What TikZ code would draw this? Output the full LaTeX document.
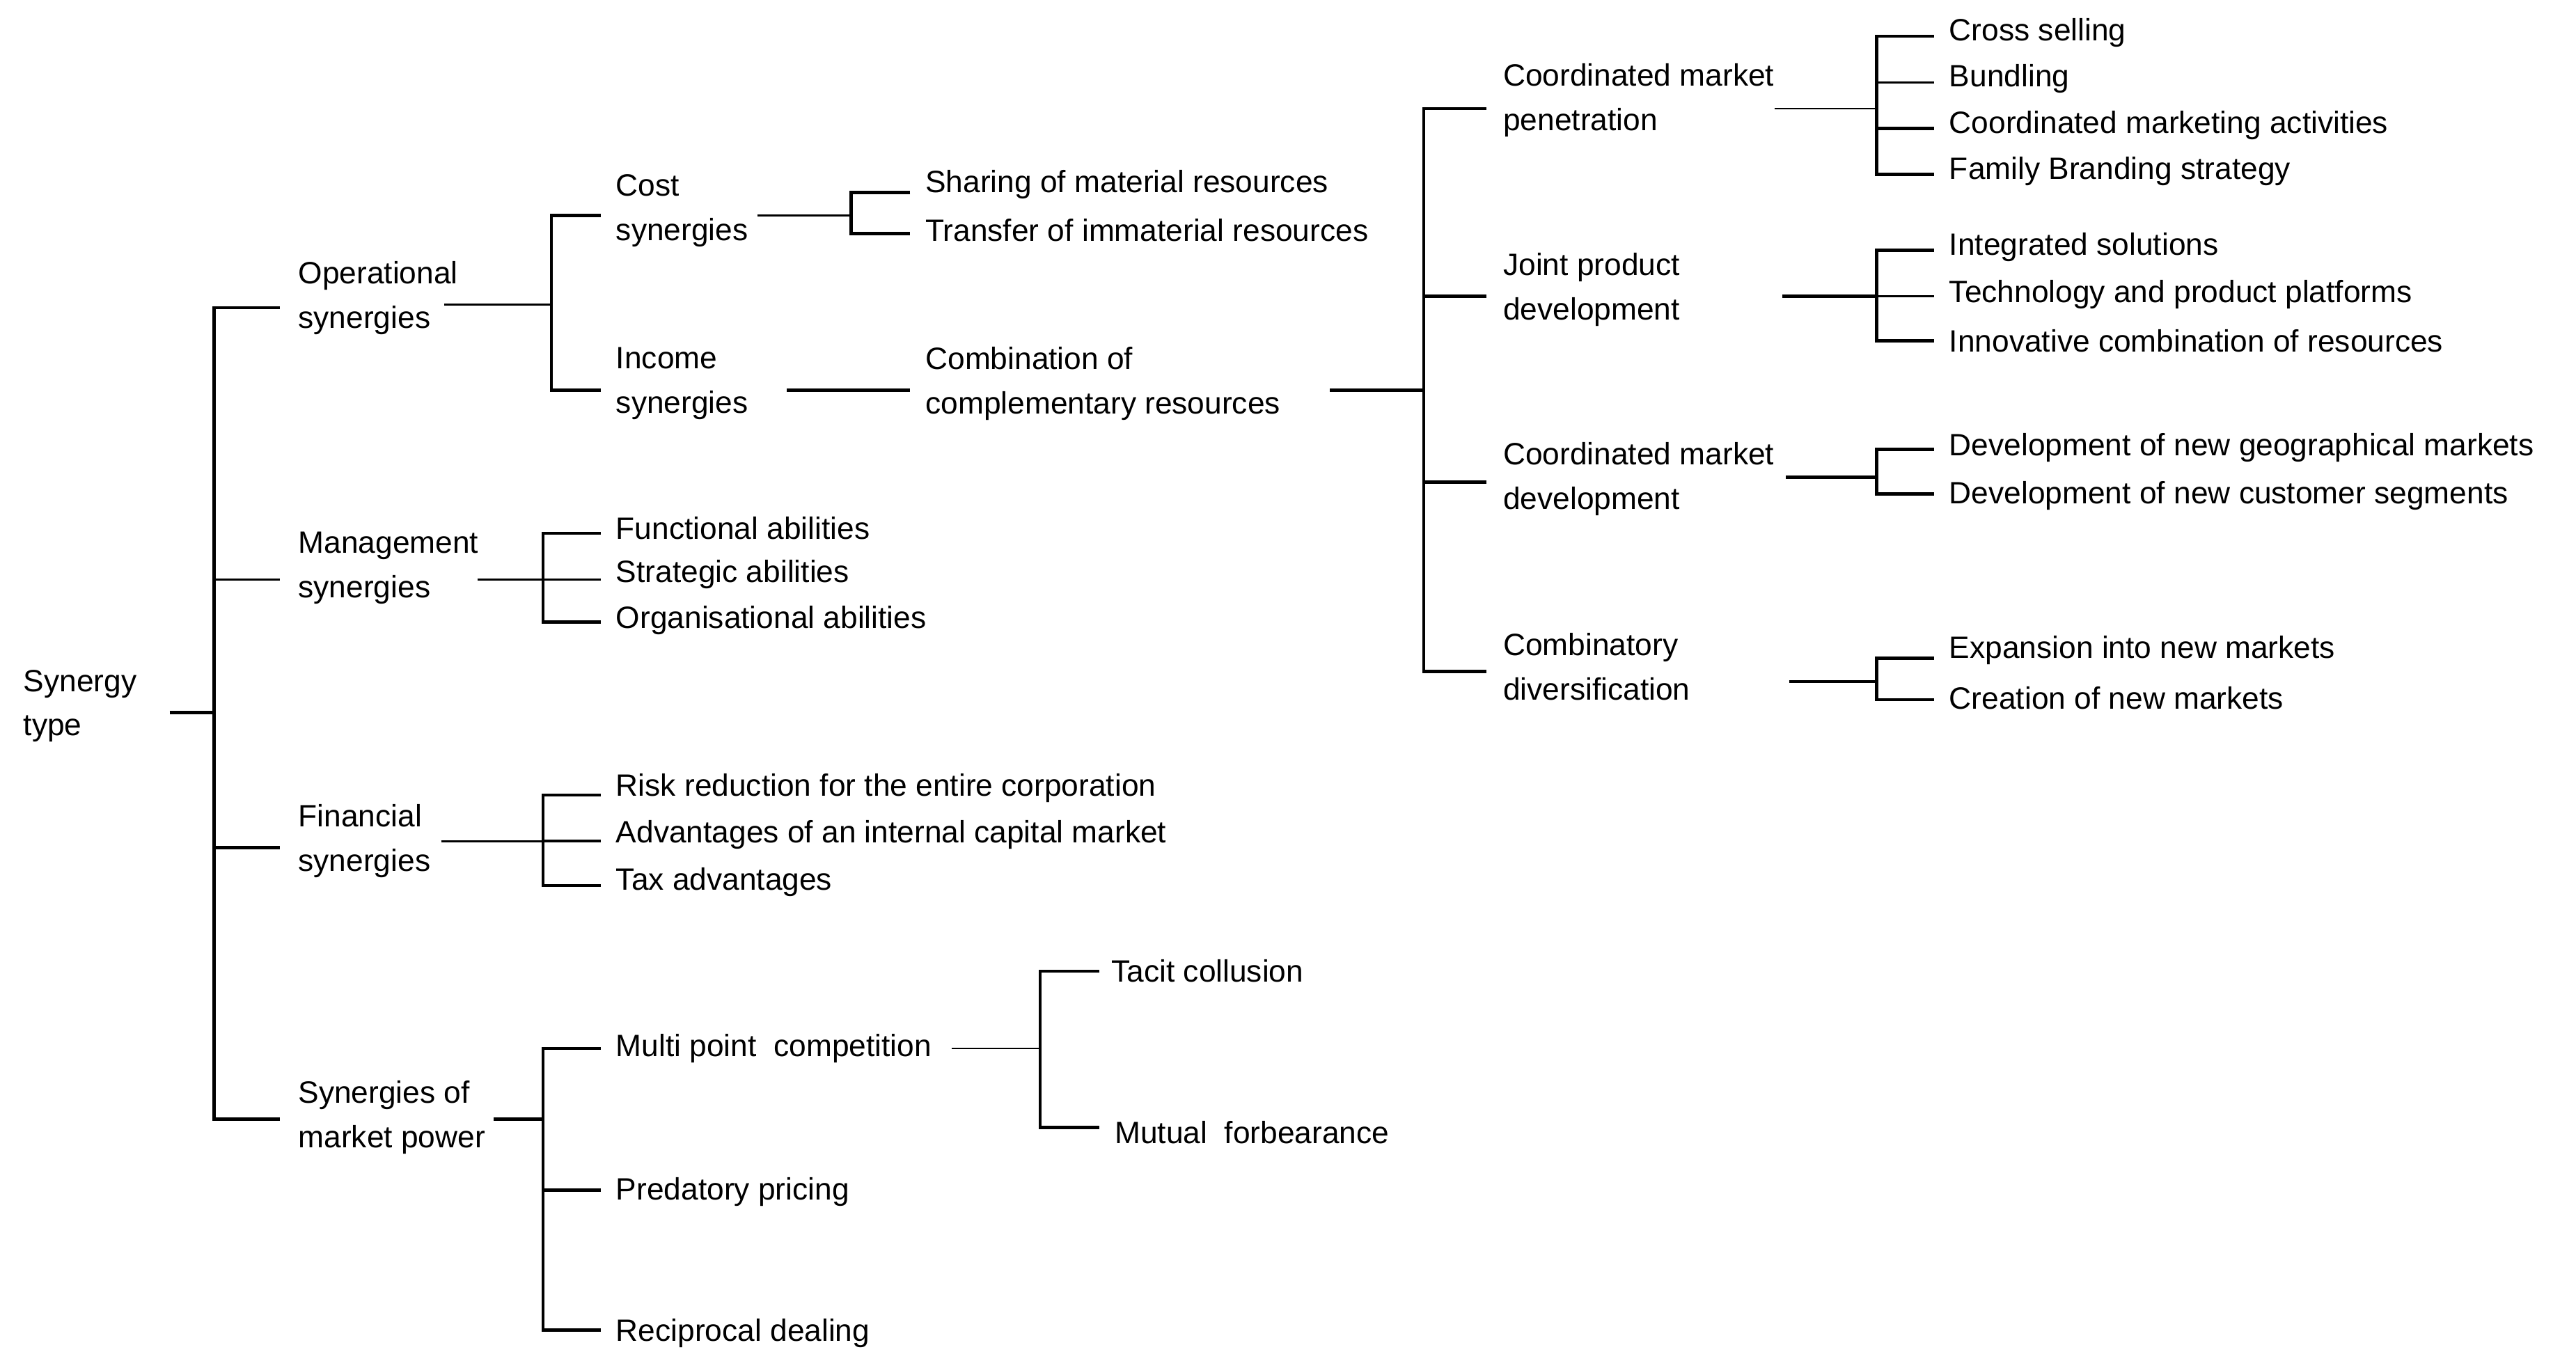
\documentclass[tikz,border=0pt]{standalone}
\usepackage{fontspec}
\setmainfont{Liberation Sans}
\begin{document}
\begin{tikzpicture}[x=0.02364cm,y=-0.02364cm,
  t/.style={anchor=west,inner sep=0pt,align=left,font=\fontsize{12.6}{18.1}\selectfont},
  ln/.style={line width=1.3pt},
  th/.style={line width=0.8pt}]
\useasboundingbox (0,0) rectangle (1565,831);
% texts
\node[t] (root) at (14,429) {Synergy\\type};
\node[t] (op) at (181,181) {Operational\\synergies};
\node[t] (mg) at (181,345) {Management\\synergies};
\node[t] (fi) at (181,511) {Financial\\synergies};
\node[t] (mp) at (181,679) {Synergies of\\market power};
\node[t] (cs) at (374,128) {Cost\\synergies};
\node[t] (is) at (374,233) {Income\\synergies};
\node[t] (s1) at (562,112) {Sharing of material resources};
\node[t] (s2) at (562,140) {Transfer of immaterial resources};
\node[t] (cc) at (562,233) {Combination of\\complementary resources};
\node[t] (cp) at (913,61) {Coordinated market\\penetration};
\node[t] (jp) at (913,176) {Joint product\\development};
\node[t] (cd) at (913,291) {Coordinated market\\development};
\node[t] (cb) at (913,405) {Combinatory\\diversification};
\node[t] (p1) at (1184,20) {Cross selling};
\node[t] (p2) at (1184,48) {Bundling};
\node[t] (p3) at (1184,76) {Coordinated marketing activities};
\node[t] (p4) at (1184,104) {Family Branding strategy};
\node[t] (j1) at (1184,150) {Integrated solutions};
\node[t] (j2) at (1184,179) {Technology and product platforms};
\node[t] (j3) at (1184,207) {Innovative combination of resources};
\node[t] (d1) at (1184,272) {Development of new geographical markets};
\node[t] (d2) at (1184,301) {Development of new customer segments};
\node[t] (b1) at (1184,395) {Expansion into new markets};
\node[t] (b2) at (1184,424) {Creation of new markets};
\node[t] (m1) at (374,321) {Functional abilities};
\node[t] (m2) at (374,349) {Strategic abilities};
\node[t] (m3) at (374,377) {Organisational abilities};
\node[t] (f1) at (374,479) {Risk reduction for the entire corporation};
\node[t] (f2) at (374,507) {Advantages of an internal capital market};
\node[t] (f3) at (374,536) {Tax advantages};
\node[t] (mc) at (374,637) {Multi point\ \ competition};
\node[t] (pp) at (374,724) {Predatory pricing};
\node[t] (rd) at (374,810) {Reciprocal dealing};
\node[t] (tc) at (675,590) {Tacit collusion};
\node[t] (mf) at (677,688) {Mutual\ \ forbearance};
% root
\draw[ln] (103,433) -- (130,433);
\draw[ln] (170,187) -- (130,187) -- (130,680) -- (170,680);
\draw[th] (130,352) -- (170,352);
\draw[ln] (130,515) -- (170,515);
% operational
\draw[th] (270,185) -- (335,185);
\draw[ln] (365,131) -- (335,131) -- (335,237) -- (365,237);
\draw[th] (460,131) -- (517,131);
\draw[ln] (553,117) -- (517,117) -- (517,142) -- (553,142);
\draw[ln] (478,237) -- (553,237);
\draw[ln] (808,237) -- (865,237);
\draw[ln] (903,66) -- (865,66) -- (865,408) -- (903,408);
\draw[ln] (865,180) -- (903,180);
\draw[ln] (865,293) -- (903,293);
% penetration
\draw[th] (1078,66) -- (1140,66);
\draw[ln] (1175,22) -- (1140,22) -- (1140,106) -- (1175,106);
\draw[th] (1140,50) -- (1175,50);
\draw[ln] (1140,78) -- (1175,78);
% joint
\draw[ln] (1083,180) -- (1140,180);
\draw[ln] (1175,152) -- (1140,152) -- (1140,207) -- (1175,207);
\draw[th] (1140,180) -- (1175,180);
% development
\draw[ln] (1085,290) -- (1140,290);
\draw[ln] (1175,273) -- (1140,273) -- (1140,300) -- (1175,300);
% diversification
\draw[ln] (1087,414) -- (1140,414);
\draw[ln] (1175,400) -- (1140,400) -- (1140,425) -- (1175,425);
% management
\draw[th] (290,352) -- (330,352);
\draw[ln] (365,324) -- (330,324) -- (330,378) -- (365,378);
\draw[th] (330,352) -- (365,352);
% financial
\draw[th] (268,511) -- (330,511);
\draw[ln] (365,483) -- (330,483) -- (330,538) -- (365,538);
\draw[ln] (330,511) -- (365,511);
% market power
\draw[ln] (300,680) -- (330,680);
\draw[ln] (365,637) -- (330,637) -- (330,808) -- (365,808);
\draw[ln] (330,723) -- (365,723);
\draw[th] (578,637) -- (632,637);
\draw[ln] (668,590) -- (632,590) -- (632,685) -- (668,685);
\end{tikzpicture}
\end{document}
